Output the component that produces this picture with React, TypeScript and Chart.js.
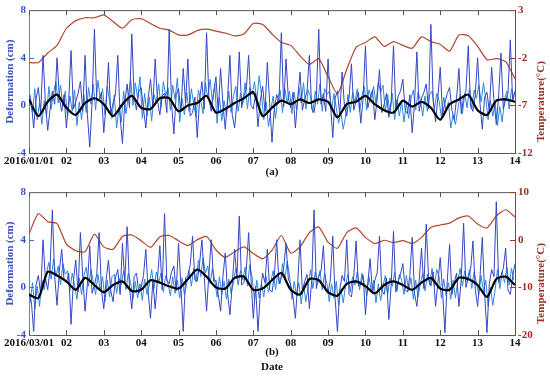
import React, { useEffect, useRef } from "react";
import { Chart, registerables } from "chart.js";
Chart.register(...registerables);

// ---------- data ----------
const xLabelsA = ["2016/01/01", "02", "03", "04", "05", "06", "07", "08", "09", "10", "11", "12", "13", "14"];
const xLabelsB = ["2016/03/01", "02", "03", "04", "05", "06", "07", "08", "09", "10", "11", "12", "13", "14"];
const defTicks = [-4, 0, 4, 8];
const tempTicksA = [-12, -7, -2, 3];
const tempTicksB = [-20, -10, 0, 10];

// deformation raw (cm), 16 samples per day
const rawA = [
  0.8, 0.2, -1.9, 0.5, 1.5, -0.6, 4.2, 0.3, -2.1, -0.4, 1.2, 0.1, 4.0, 0.6, -0.5, 0.9,
  -1.9, 0.4, 4.6, -0.3, 0.3, 1.0, 2.0, -0.5, 4.2, -0.8, -3.5, 0.2, 6.4, 0.4, 0.5, 1.1,
  -2.3, 0.1, 3.6, -0.7, 0.2, 0.9, 4.2, -1.0, -3.2, 0.3, 1.8, -0.2, 6.0, 0.7, -0.4, 1.2,
  1.5, -0.3, -1.9, 0.6, 2.2, -0.1, 3.9, 0.4, -0.8, 0.8, 1.0, -0.6, 6.4, 0.2, -2.4, 0.9,
  1.4, -0.5, 3.1, 0.2, 3.9, -0.9, -0.6, 0.7, -2.7, 0.4, 2.0, -0.3, 6.1, 0.5, -0.5, 1.0,
  2.4, -0.6, 3.1, 0.1, -2.0, 0.6, 4.2, -0.8, -1.9, 0.3, 4.5, -0.2, 0.8, 1.3, 4.2, 0.0,
  -0.3, 1.0, -1.8, 0.4, 1.6, -0.5, 3.6, 0.2, -3.1, -0.2, 0.9, 0.4, 6.1, -0.1, 3.9, 0.6,
  -0.2, 1.1, -1.9, 0.5, 2.8, -0.4, 0.5, 1.2, 4.2, -0.3, -0.6, 0.8, 6.4, 0.1, 1.0, -0.5,
  3.9, 0.3, -2.7, 0.6, 1.2, -0.8, 2.8, 0.0, -0.9, 0.7, 3.5, -0.4, 0.4, 1.1, -1.5, 0.6,
  5.0, -0.2, 0.6, 1.3, -1.2, 0.5, 3.0, -0.6, 0.1, 1.0, -1.0, 0.3, 5.0, -0.4, 0.8, 1.2,
  2.2, -0.4, -0.7, 0.9, -2.3, 0.2, 4.5, -0.5, 0.6, 1.1, 1.8, -0.3, 6.8, 0.4, -1.4, 0.7,
  3.2, -0.8, 0.2, 1.0, 1.5, -0.4, -1.2, 0.6, 3.1, -0.7, 0.7, 1.2, 5.0, -0.1, -0.5, 0.9,
  4.0, 0.2, -2.0, 0.7, 1.1, -0.5, 3.2, 0.4, -1.6, 0.8, 4.4, -0.3, 0.5, 1.0, 5.5, 0.3,
  1.2,
];
// deformation filtered (cm), 16 samples per day, offset half a sample
const filtA = [
  0.9, -0.6, 1.4, -1.2, 0.2, -1.6, 0.4, -0.9, 1.6, -0.3, 1.1, 2.0, 0.2, 1.7, -0.1, 1.2,
  -1.0, 0.8, -0.5, 1.3, -1.7, 0.3, -1.2, 0.9, -0.6, 1.5, 0.1, 1.8, -0.4, 2.1, 0.5, 1.4,
  -0.8, 1.6, 0.3, -1.1, 0.9, -1.9, -0.2, -1.4, 1.2, -0.7, 0.8, 2.2, 0.0, 1.9, 0.6, 2.4,
  -1.1, 1.0, -0.9, 0.7, -1.3, 0.9, 0.2, 1.8, -0.2, 2.0, 0.8, 1.5, -0.4, 1.7, 0.5, 2.3,
  -1.4, 0.6, -0.8, 1.1, -0.5, 1.4, 0.1, -1.0, 1.3, 0.4, -0.7, 1.9, 0.6, 2.2, 0.3, 1.8,
  -1.5, 0.7, -1.3, 0.4, -0.9, 1.2, -0.6, 0.8, 1.6, -0.5, 1.0, 0.2, 1.9, -0.3, 1.5, 0.9,
  2.0, 0.4, 2.5, 0.9, -1.2, 0.3, -1.8, -0.4, 0.8, -1.1, 0.6, 1.3, -0.6, 1.4, 0.2, 1.2,
  -0.7, 1.1, -0.4, 1.5, 0.2, 1.9, -0.3, 1.3, 0.7, -0.6, 1.2, 0.1, 1.8, -0.5, 1.4, 0.9,
  1.2, -0.4, 1.0, -0.2, -1.5, -0.6, -2.0, -0.9, 0.9, -0.6, 1.1, 0.2, 1.4, -0.5, 0.8, 1.6,
  -0.4, 1.3, 0.6, 1.6, 0.2, 2.0, 1.1, 1.7, -0.5, 0.9, -0.7, 1.0, -1.2, 0.5, -0.9, 0.3,
  -1.4, 0.2, -1.1, 0.6, 1.3, -0.4, 1.1, 0.5, -0.9, 0.8, -0.5, 0.9, 1.2, -0.3, 1.0, 0.4,
  -1.0, 0.7, -0.5, 0.3, -1.9, -0.8, -1.6, -0.4, 0.9, -0.7, 1.0, -0.2, 1.4, -0.3, 1.3, 0.6,
  1.7, 0.3, 1.9, 0.6, -1.2, 0.4, -0.9, 0.2, -1.7, -0.1, -1.4, 0.5, 1.2, -0.3, 1.4, 0.7,
];
// trend (cm), 4 samples per day
const trendA = [
  0.5, -0.9, 0.3, 0.9, -0.2, -0.8, 0.2, 0.6, 0.1, -0.9,
  0.1, 0.8, -0.2, -0.3, 0.6, 0.6, -0.5, 0.0, 0.2, 0.8,
  -0.6, -0.3, 0.2, 0.6, 1.1, -0.9, -0.2, 0.4, 0.1, 0.5,
  0.2, 0.5, 0.3, -1.0, 0.1, 0.3, 0.8, 0.1, -0.4, -0.6,
  0.4, -0.1, 0.3, -0.2, -1.2, 0.1, 0.5, 0.9, -0.4, -0.8,
  0.4, 0.5, 0.3,
];
// temperature (°C), 4 samples per day
const tempA = [
  -2.5, -2.5, -1.5, -0.7, 1.1, 1.9, 2.2, 2.2, 2.5, 1.8,
  1.1, 2.0, 2.1, 1.6, 1.1, 0.9, 0.4, 0.4, 0.85, 1.0,
  0.8, 0.6, 0.3, 0.5, 1.6, 1.5, 0.5, -0.4, -0.7, -1.8,
  -2.7, -2.1, -4.0, -5.8, -3.2, -0.9, -0.4, 0.2, -0.8, -0.3,
  -0.7, -1.0, 0.2, -0.3, -0.6, -1.3, 0.4, 0.3, -0.8, -2.2,
  -2.1, -2.4, -4.2,
];

const rawB = [
  -0.5, -1.2, -3.7, 0.2, 1.0, -0.6, 4.0, 0.8, -0.2, 1.5, 6.5, 0.9, -1.5, 1.4, 3.2, 0.6,
  0.4, 1.2, -3.1, 0.5, 2.3, -0.4, 4.6, 0.9, -2.0, 0.3, 3.5, -0.5, 0.2, 1.1, 4.6, -0.2,
  -1.8, 0.6, 2.3, -0.3, -1.2, 0.8, 1.5, -0.6, 3.7, 0.4, 5.1, 0.0, -1.8, 0.9, 1.2, -0.5,
  0.0, 1.0, 3.2, -0.4, -2.6, 0.5, -1.8, 0.7, 3.5, -0.2, 6.2, 0.6, 0.3, 1.3, 1.8, -0.3,
  3.7, 0.2, -3.7, 0.8, 1.0, 1.9, 4.3, 0.6, 0.5, 2.0, 4.0, 0.9, -2.0, 1.2, 4.0, 0.5,
  0.6, -0.6, -2.0, 0.9, 2.9, -0.5, -2.3, 0.3, 3.2, 0.7, 6.0, 0.2, 0.4, 1.5, 4.6, 0.8,
  -2.6, 0.1, -3.7, -0.5, 1.2, 0.4, 3.2, -0.2, -0.4, 1.0, 4.0, 0.3, 0.8, 1.6, 3.7, 0.7,
  0.2, -0.8, -2.6, 0.3, 4.0, -0.4, 0.5, 1.1, -1.8, 0.6, 6.5, -0.1, 0.9, 1.4, 3.5, -0.3,
  -0.5, 0.7, 4.3, -0.9, -3.7, -0.2, 1.0, 0.5, 4.0, -0.6, -0.8, 0.9, 3.9, 0.1, 0.3, 1.0,
  -2.3, 0.4, 2.4, -0.5, 0.6, 1.2, 4.3, -0.3, -0.6, 0.8, -2.7, 0.2, 4.7, -0.4, 0.5, 1.1,
  2.0, -0.2, -0.4, 1.0, 4.2, -0.5, -1.6, 0.6, 3.3, -0.1, 5.3, 0.8, 0.1, 1.3, -1.6, 0.4,
  2.5, -0.3, -3.8, 0.5, 3.6, -0.6, 0.4, 1.2, -1.6, 0.7, 5.4, 0.0, 0.8, 1.5, 3.9, -0.2,
  -1.6, 0.8, 4.2, -0.5, -3.8, 0.3, 1.5, 0.9, 7.2, 0.4, 1.0, 1.6, 3.3, -0.2, -0.6, 0.9,
  2.0,
];
const filtB = [
  -1.3, 0.4, -1.8, 0.1, -1.6, 0.6, -0.2, 1.2, 2.1, 0.7, 2.4, 0.9, 1.8, 0.2, 2.0, 1.1,
  1.4, -0.3, 1.2, 0.2, -1.0, 0.8, -0.6, 1.0, 1.7, 0.1, 1.5, 0.5, -0.6, 1.1, -0.3, 0.9,
  -1.2, 0.6, -0.8, 0.9, 1.1, -0.5, 0.8, 0.2, 1.4, -0.2, 1.2, 0.4, -1.0, 0.5, -0.9, 0.3,
  -1.1, 0.7, -0.6, 0.2, 1.5, -0.1, 1.3, 0.4, 1.2, -0.4, 1.0, 0.3, -0.7, 0.9, -0.5, 0.6,
  -0.9, 0.8, -0.6, 0.3, 1.4, 0.1, 1.6, 0.5, 2.3, 0.9, 2.5, 1.2, 1.8, 0.3, 1.6, 0.6,
  -0.8, 0.9, -0.6, 0.5, -1.0, 0.7, -0.5, 0.4, 1.6, 0.2, 1.4, 0.6, 1.7, 0.1, 1.9, 0.8,
  -1.0, 0.6, -0.9, 0.3, -0.8, 0.9, -0.4, 0.5, 1.4, -0.2, 1.2, 0.3, 2.0, 0.6, 2.2, 1.0,
  -1.0, 0.5, -0.7, 0.4, -1.4, 0.2, -1.2, 0.1, 1.5, -0.1, 1.3, 0.5, 1.4, -0.2, 1.2, 0.3,
  -1.2, 0.3, -0.9, 0.5, -1.5, -0.1, -1.3, 0.2, 1.1, -0.4, 0.9, 0.2, 1.3, -0.2, 1.2, 0.4,
  -0.7, 0.9, -0.4, 0.6, -1.3, 0.3, -1.1, 0.1, 1.0, -0.6, 0.8, 0.1, 1.3, -0.3, 1.1, 0.6,
  -0.6, 1.0, -0.3, 0.8, -1.0, 0.6, -0.8, 0.3, 1.2, -0.3, 1.1, 0.2, 1.6, 0.1, 1.5, 0.9,
  -0.9, 0.7, -0.7, 0.4, -1.0, 0.6, -0.9, 0.5, 1.6, 0.1, 1.4, 0.5, 1.5, -0.1, 1.3, 0.4,
  -0.6, 1.0, -0.4, 0.6, -1.6, 0.0, -1.5, -0.2, 1.5, -0.1, 1.3, 0.4, 1.7, 0.2, 1.6, 0.6,
];
const trendB = [
  -0.6, -0.9, 1.3, 1.0, 0.5, -0.2, 0.8, 0.2, -0.4, 0.2,
  0.5, -0.3, -0.2, 0.6, 0.4, 0.1, -0.1, 0.7, 1.5, 0.9,
  0.0, -0.1, 0.8, 0.9, -0.2, -0.1, 0.6, 1.2, -0.2, -0.6,
  0.7, 0.6, -0.4, -0.7, 0.3, 0.5, 0.1, -0.5, 0.2, 0.5,
  0.2, -0.2, 0.4, 0.8, -0.1, -0.2, 0.8, 0.7, 0.2, -0.8,
  0.7, 0.9, 0.2,
];
const tempB = [
  1.2, 5.5, 3.8, 3.4, -0.9, -2.3, -2.5, 1.2, -1.5, -2.0,
  0.7, 1.0, -0.2, -1.6, 0.6, 0.9, -0.2, -1.2, 0.0, 0.7,
  -2.1, -3.7, -2.5, -1.5, -2.9, -4.0, -2.2, 0.9, -2.8, -1.5,
  1.5, 2.7, -0.5, -1.8, 1.5, 2.5, 0.5, -0.8, -0.1, -0.6,
  -0.2, -0.8, 0.5, 2.6, 3.1, 3.5, 4.6, 5.0, 3.3, 2.5,
  5.0, 6.3, 4.8,
];

// ---------- styling ----------
const FONT = "'Liberation Serif', 'Times New Roman', serif";
const BLUE_TXT = "#3b52c2";
const RED_TXT = "#9e2c22";
const TEMP_COLOR = "#b0452a";
const DARK_BLUE = "#3447c4";
const LIGHT_BLUE = "#2f88d8";

const decor = {
  id: "decor",
  afterDraw(chart: any) {
    const { ctx, chartArea: a, scales } = chart;
    const xs = scales.x, ys = scales.y, y1 = scales.y1;
    ctx.save();
    ctx.lineWidth = 1;
    ctx.strokeStyle = "#555";
    ctx.beginPath();
    ctx.moveTo(a.left, a.top + 0.5);
    ctx.lineTo(a.right, a.top + 0.5);
    xs.ticks.forEach((t: any) => {
      const px = Math.round(xs.getPixelForValue(t.value)) + 0.5;
      ctx.moveTo(px, a.bottom);
      ctx.lineTo(px, a.bottom - 5);
      ctx.moveTo(px, a.top);
      ctx.lineTo(px, a.top + 5);
    });
    ctx.stroke();
    ctx.strokeStyle = "#5a6cc4";
    ctx.beginPath();
    ys.ticks.forEach((t: any) => {
      const py = Math.round(ys.getPixelForValue(t.value)) + 0.5;
      ctx.moveTo(a.left, py);
      ctx.lineTo(a.left + 5, py);
    });
    ctx.stroke();
    ctx.strokeStyle = "#a33a2a";
    ctx.beginPath();
    y1.ticks.forEach((t: any) => {
      const py = Math.round(y1.getPixelForValue(t.value)) + 0.5;
      ctx.moveTo(a.right, py);
      ctx.lineTo(a.right - 5, py);
    });
    ctx.stroke();
    // right axis title, reading bottom-to-top
    const title = y1.options.title.text;
    ctx.font = `bold 11px ${FONT}`;
    ctx.fillStyle = RED_TXT;
    ctx.textAlign = "center";
    ctx.textBaseline = "middle";
    ctx.translate(541, (a.top + a.bottom) / 2 + 20);
    ctx.rotate(-Math.PI / 2);
    ctx.fillText(title, 0, 0);
    ctx.restore();
  },
};

type PanelProps = {
  top: number;
  height: number;
  xLabels: string[];
  raw: number[];
  filt: number[];
  trend: number[];
  temp: number[];
  tempTicks: number[];
  xTitle: string | string[];
  titlePad: number;
};

function Panel(p: PanelProps) {
  const ref = useRef<HTMLCanvasElement>(null);
  useEffect(() => {
    const font = { family: FONT, size: 11, weight: "bold" as const, lineHeight: 1.3 };
    const areaBottom = 153;
    const chart = new Chart(ref.current as HTMLCanvasElement, {
      type: "line",
      data: {
        datasets: [
          {
            label: "Temperature",
            data: p.temp.map((v, i) => ({ x: i / 4, y: v })),
            yAxisID: "y1",
            borderColor: TEMP_COLOR,
            borderWidth: 1.2,
            pointRadius: 0,
            tension: 0.2,
            order: 3,
          },
          {
            label: "Filtered deformation",
            data: p.filt.map((v, i) => ({ x: (i + 0.5) / 16, y: v })),
            yAxisID: "y",
            borderColor: LIGHT_BLUE,
            borderWidth: 1,
            pointRadius: 0,
            order: 2,
          },
          {
            label: "Raw deformation",
            data: p.raw.map((v, i) => ({ x: i / 16, y: v })),
            yAxisID: "y",
            borderColor: DARK_BLUE,
            borderWidth: 1,
            pointRadius: 0,
            order: 1,
          },
          {
            label: "Trend",
            data: p.trend.map((v, i) => ({ x: i / 4, y: v })),
            yAxisID: "y",
            borderColor: "#000000",
            borderWidth: 2.2,
            pointRadius: 0,
            tension: 0.25,
            order: 0,
          },
        ],
      },
      options: {
        animation: false,
        responsive: false,
        events: [],
        layout: { padding: { top: 7, left: 0, right: 0, bottom: 0 } },
        plugins: { legend: { display: false }, tooltip: { enabled: false } },
        scales: {
          x: {
            type: "linear",
            position: "bottom",
            min: 0,
            max: p.xLabels.length - 1,
            afterBuildTicks: (s: any) => {
              s.ticks = p.xLabels.map((_, i) => ({ value: i }));
            },
            afterFit: (s: any) => {
              s.height = p.height - areaBottom;
            },
            grid: { display: false, drawTicks: false },
            border: { display: true, color: "#555", width: 1 },
            ticks: {
              autoSkip: false,
              maxRotation: 0,
              padding: 1,
              color: "#111",
              font,
              callback: (v: any) => p.xLabels[Math.round(Number(v))] ?? "",
            },
            title: {
              display: true,
              text: p.xTitle,
              color: "#111",
              font,
              padding: { top: 0, bottom: p.titlePad },
            },
          },
          y: {
            type: "linear",
            position: "left",
            min: defTicks[0],
            max: defTicks[defTicks.length - 1],
            afterBuildTicks: (s: any) => {
              s.ticks = defTicks.map((v) => ({ value: v }));
            },
            afterFit: (s: any) => {
              s.width = 29;
            },
            grid: { display: false, drawTicks: false },
            border: { display: true, color: "#6b7cc8", width: 1 },
            ticks: { color: BLUE_TXT, font, padding: 3 },
            title: {
              display: true,
              text: "Deformation (cm)",
              color: BLUE_TXT,
              font,
              padding: { top: 3, bottom: 0 },
            },
          },
          y1: {
            type: "linear",
            position: "right",
            min: p.tempTicks[0],
            max: p.tempTicks[p.tempTicks.length - 1],
            afterBuildTicks: (s: any) => {
              s.ticks = p.tempTicks.map((v) => ({ value: v }));
            },
            afterFit: (s: any) => {
              s.width = 35;
            },
            grid: { display: false, drawTicks: false, drawOnChartArea: false },
            border: { display: true, color: "#a33a2a", width: 1 },
            ticks: { color: RED_TXT, font, padding: 3 },
            title: { display: false, text: "Temperature(°C)", color: RED_TXT, font },
          },
        },
      },
      plugins: [decor],
    } as any);
    return () => chart.destroy();
  }, []);
  return (
    <canvas
      ref={ref}
      width={550}
      height={p.height}
      style={{ position: "absolute", left: 0, top: p.top, width: 550, height: p.height }}
    />
  );
}

export default function App() {
  return (
    <div style={{ position: "fixed", left: 0, top: 0, width: 550, height: 378, background: "#fff" }}>
      <Panel top={0} height={182} xLabels={xLabelsA} raw={rawA} filt={filtA} trend={trendA} temp={tempA}
        tempTicks={tempTicksA} xTitle="(a)" titlePad={3} />
      <Panel top={182} height={196} xLabels={xLabelsB} raw={rawB} filt={filtB} trend={trendB} temp={tempB}
        tempTicks={tempTicksB} xTitle={["(b)", "Date"]} titlePad={4} />
    </div>
  );
}
